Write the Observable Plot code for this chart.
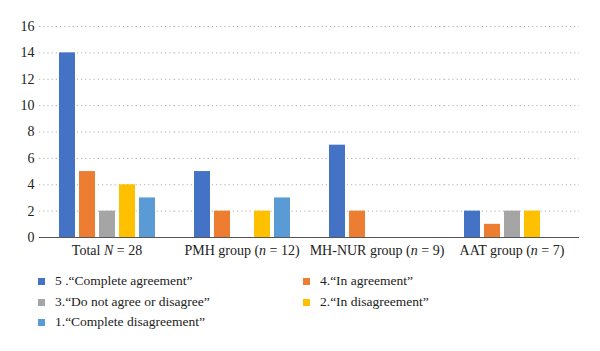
<!DOCTYPE html>
<html>
<head>
<meta charset="utf-8">
<script src="https://cdn.jsdelivr.net/npm/d3@7"></script>
<script src="https://cdn.jsdelivr.net/npm/@observablehq/plot@0.6"></script>
<style>
  html, body { margin: 0; padding: 0; background: #fff; }
  #chart { width: 600px; }
  #chart svg, #chart svg text { font-family: "Liberation Serif", "DejaVu Serif", "Times New Roman", serif !important; }
  .legend { position: relative; width: 600px; height: 86px; font-family: "Liberation Serif", "DejaVu Serif", "Times New Roman", serif; font-size: 13.5px; color: #222; }
  .item { position: absolute; display: flex; align-items: center; white-space: nowrap; height: 16px; }
  .sw { width: 7px; height: 7px; margin-right: 10px; }
</style>
</head>
<body>
<div id="chart"></div>
<script>
const groups = ["Total N = 28", "PMH group (n = 12)", "MH-NUR group (n = 9)", "AAT group (n = 7)"];
const responses = ["5 .\u201cComplete agreement\u201d", "4.\u201cIn agreement\u201d", "3.\u201cDo not agree or disagree\u201d", "2.\u201cIn disagreement\u201d", "1.\u201cComplete disagreement\u201d"];
const colors = ["#4472C4", "#ED7D31", "#A5A5A5", "#FFC000", "#5B9BD5"];
const totalCounts = [14, 5, 2, 4, 3];
const pmhCounts = [5, 2, 0, 2, 3];
const mhnurCounts = [7, 2, 0, 0, 0];
const aatCounts = [2, 1, 2, 2, 0];
const yTicks = [0, 2, 4, 6, 8, 10, 12, 14, 16];

const series = [totalCounts, pmhCounts, mhnurCounts, aatCounts];
const rows = [];
groups.forEach((g, gi) => responses.forEach((r, ri) => rows.push({group: g, response: r, count: series[gi][ri]})));

const plot = Plot.plot({
  width: 600,
  height: 265,
  marginTop: 26,
  marginBottom: 28,
  marginLeft: 38,
  marginRight: 21,
  style: {fontFamily: "'Liberation Serif', 'DejaVu Serif', serif", fontSize: "14px", color: "#222", background: "#fff"},
  fx: {domain: groups, padding: 0, label: null, tickSize: 0, tickPadding: 8, axis: "bottom"},
  x: {domain: responses, axis: null, paddingInner: 0.2, paddingOuter: 0.88},
  y: {domain: [0, 16], ticks: yTicks.length - 1, tickSize: 0, tickPadding: 5, label: null},
  color: {domain: responses, range: colors},
  marks: [
    Plot.ruleY(yTicks.filter(d => d > 0), {stroke: "#b0b0b0", strokeDasharray: "1.2,3", strokeWidth: 1}),
    Plot.barY(rows, {fx: "group", x: "response", y: "count", fill: "response"}),
    Plot.ruleY([0], {stroke: "#555", strokeWidth: 1.2})
  ]
});
document.getElementById("chart").appendChild(plot);

// italicize N / n in the group labels
d3.select(plot).selectAll("text").each(function() {
  const t = this.textContent;
  const m = t.match(/^(.*?)([Nn])( = .*)$/);
  if (m && groups.includes(t)) {
    const el = d3.select(this);
    el.text(null);
    el.append("tspan").text(m[1]);
    el.append("tspan").attr("font-style", "italic").text(m[2]);
    el.append("tspan").text(m[3]);
  }
});

// legend (two columns)
const legend = document.createElement("div");
legend.className = "legend";
const pos = [[38, 8], [303, 8], [38, 29], [303, 29], [38, 49]];
responses.forEach((r, i) => {
  const it = document.createElement("div");
  it.className = "item";
  it.style.left = pos[i][0] + "px";
  it.style.top = pos[i][1] + "px";
  const sw = document.createElement("span");
  sw.className = "sw";
  sw.style.background = colors[i];
  const lab = document.createElement("span");
  lab.textContent = r;
  it.appendChild(sw);
  it.appendChild(lab);
  legend.appendChild(it);
});
document.getElementById("chart").appendChild(legend);
</script>
</body>
</html>
